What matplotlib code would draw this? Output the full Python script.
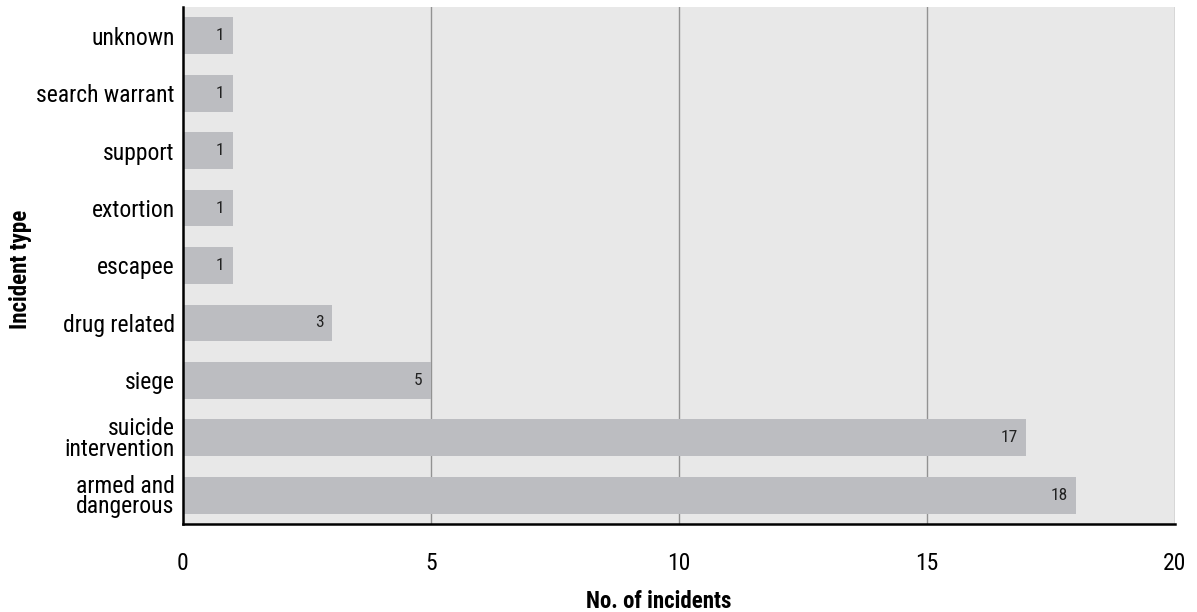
import matplotlib
matplotlib.use('Agg')
import matplotlib.pyplot as plt

# data, top to bottom as shown
incident_types = ['unknown', 'search warrant', 'support', 'extortion', 'escapee',
                  'drug related', 'siege', 'suicide\nintervention', 'armed and\ndangerous']
incident_counts = [1, 1, 1, 1, 1, 3, 5, 17, 18]
x_ticks = [0, 5, 10, 15, 20]

plt.rcParams['font.family'] = ['Roboto Condensed', 'DejaVu Sans']

bar_col = '#bcbdc1'
bg_col = '#e8e8e8'
grid_col = '#929292'

fig = plt.figure(figsize=(11.97, 6.12), dpi=100)
ax = fig.add_axes([183 / 1197, 1 - 524 / 612, (1175 - 183) / 1197, (524 - 7) / 612])
ax.set_facecolor(bg_col)

pos = list(range(len(incident_types)))
ax.barh(pos, incident_counts, height=0.64, color=bar_col, zorder=2)

# value labels inside the bar ends
for p, v in zip(pos, incident_counts):
    ax.annotate(str(v), xy=(v, p), xytext=(-6, 0), textcoords='offset points',
                ha='right', va='center', fontsize=12.5, color='#222222', zorder=3)

ax.set_xlim(0, 20)
ax.set_ylim(len(incident_types) - 0.5, -0.5)
ax.set_xticks(x_ticks)
ax.set_yticks(pos)
ax.set_yticklabels(incident_types, linespacing=0.85)

for xv in x_ticks[1:]:
    ax.axvline(xv, color=grid_col, linewidth=1, zorder=1)

ax.tick_params(axis='both', length=0)
ax.tick_params(axis='y', labelsize=17, pad=6)
ax.tick_params(axis='x', labelsize=17, pad=20)

for side in ['top', 'right']:
    ax.spines[side].set_visible(False)
ax.spines['left'].set_linewidth(1.8)
ax.spines['bottom'].set_linewidth(1.8)

ax.set_xlabel('No. of incidents', fontsize=16.5, fontweight='bold')
ax.set_ylabel('Incident type', fontsize=16.5, fontweight='bold')
ax.xaxis.set_label_coords(0.48, -0.127)
ax.yaxis.set_label_coords(-0.152, 0.493)

fig.savefig('out.png', dpi=100)
